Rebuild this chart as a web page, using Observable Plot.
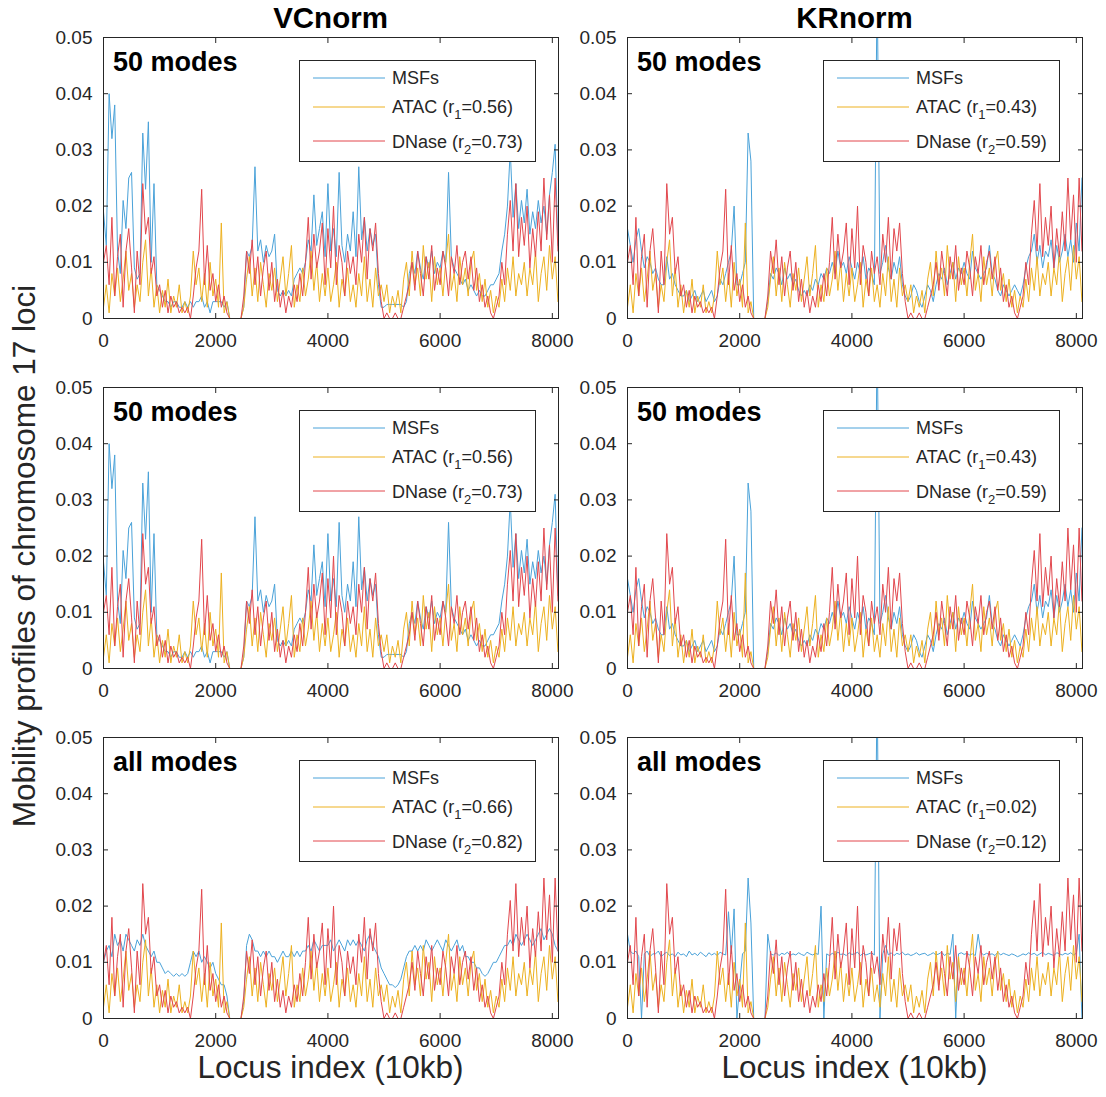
<!DOCTYPE html>
<html><head><meta charset="utf-8">
<script src="https://cdn.jsdelivr.net/npm/d3@7"></script>
<script src="https://cdn.jsdelivr.net/npm/@observablehq/plot@0.6"></script>
<style>
body{margin:0;background:#fff;}
#fig{position:relative;width:1106px;height:1097px;overflow:hidden;font-family:"Liberation Sans",Arial,Helvetica,sans-serif;}
</style></head><body><div id="fig"></div>
<script>
// ---- data (one sample every 50 loci) ----
const STEP = 50;
const xTicks = [0, 2000, 4000, 6000, 8000];
const yTicks = [0, 0.01, 0.02, 0.03, 0.04, 0.05];
const columnTitles = ["VCnorm", "KRnorm"];

const atac = [0.002,0.006,0.001,0.008,0.004,0.009,0.003,0.007,0.012,0.005,
 0.008,0.002,0.006,0.003,0.010,0.014,0.004,0.009,0.002,0.006,
 0.001,0.005,0.002,0.007,0.001,0.004,0.002,0.006,0.001,0.003,
 0.001,0.004,0.012,0.006,0.009,0.003,0.008,0.002,0.010,0.004,
 0.007,0.002,0.017,0.001,0.003,0,0,0,0,0,
 0.002,0.007,0.011,0.004,0.009,0.003,0.010,0.006,0.002,0.008,
 0.005,0.009,0.003,0.007,0.011,0.004,0.008,0.013,0.002,0.006,
 0.003,0.009,0.004,0.007,0.012,0.005,0.010,0.003,0.008,0.004,
 0.009,0.003,0.006,0.010,0.002,0.007,0.004,0.009,0.003,0.006,
 0.002,0.008,0.004,0.011,0.003,0.007,0.002,0.009,0.004,0.006,
 0.003,0.006,0.001,0.004,0.002,0.005,0.001,0.007,0.010,0.004,
 0.012,0.006,0.009,0.004,0.013,0.007,0.010,0.003,0.011,0.006,
 0.009,0.004,0.010,0.015,0.005,0.008,0.003,0.011,0.006,0.009,
 0.004,0.010,0.012,0.005,0.008,0.003,0.007,0.002,0.005,0.001,
 0.004,0.002,0.007,0.003,0.009,0.005,0.011,0.004,0.008,0.006,
 0.010,0.004,0.009,0.006,0.012,0.003,0.008,0.011,0.005,0.013,
 0.007,0.011,0.003];

const dnase = [0.010,0.013,0.006,0.018,0.004,0.011,0.015,0.002,0.012,0.016,
 0.009,0.001,0.012,0.006,0.024,0.015,0.018,0.008,0.011,0.004,
 0.006,0.002,0.005,0.001,0.004,0.002,0.003,0.001,0.002,0.001,
 0.002,0.000,0.004,0.009,0.012,0.023,0.006,0.013,0.005,0.008,
 0.003,0.006,0.002,0.004,0.001,0,0,0,0,0,
 0.004,0.012,0.008,0.014,0.006,0.011,0.004,0.009,0.012,0.005,
 0.010,0.003,0.007,0.002,0.005,0.001,0.004,0.002,0.006,0.003,
 0.008,0.004,0.010,0.018,0.007,0.015,0.009,0.012,0.017,0.006,
 0.016,0.009,0.020,0.006,0.013,0.010,0.004,0.012,0.008,0.011,
 0.006,0.015,0.010,0.018,0.007,0.016,0.012,0.017,0.008,0.003,
 0.000,0.001,0.000,0.000,0.001,0.000,0.000,0.002,0.004,0.006,
 0.010,0.005,0.012,0.008,0.004,0.011,0.007,0.013,0.005,0.009,
 0.006,0.012,0.009,0.004,0.011,0.008,0.013,0.006,0.010,0.012,
 0.007,0.011,0.005,0.009,0.003,0.006,0.002,0.004,0.001,0.000,
 0.002,0.004,0.010,0.006,0.015,0.021,0.012,0.024,0.011,0.018,
 0.013,0.020,0.009,0.016,0.011,0.019,0.012,0.025,0.014,0.022,
 0.010,0.025,0.012];

const msfVC50 = [0.019,0.013,0.040,0.032,0.038,0.012,0.008,0.021,0.016,0.025,
 0.026,0.009,0.007,0.008,0.033,0.023,0.035,0.010,0.024,0.006,
 0.005,0.004,0.003,0.003,0.002,0.003,0.003,0.002,0.002,0.003,
 0.002,0.003,0.002,0.003,0.003,0.004,0.002,0.003,0.001,0.003,
 0.003,0.003,0.003,0.002,0.003,0,0,0,0,0,
 0.002,0.012,0.011,0.013,0.027,0.012,0.014,0.010,0.013,0.011,
 0.012,0.015,0.005,0.004,0.005,0.004,0.005,0.004,0.007,0.008,
 0.009,0.008,0.010,0.014,0.012,0.022,0.013,0.016,0.019,0.011,
 0.024,0.012,0.016,0.011,0.026,0.013,0.010,0.015,0.012,0.019,
 0.011,0.027,0.014,0.018,0.012,0.016,0.013,0.015,0.006,0.002,
 0.002,0.0025,0.0025,0.0025,0.0025,0.0025,0.0025,0.002,0.003,0.008,
 0.010,0.008,0.012,0.009,0.007,0.011,0.009,0.012,0.008,0.010,
 0.009,0.012,0.010,0.026,0.011,0.009,0.008,0.007,0.006,0.007,
 0.005,0.006,0.005,0.004,0.005,0.004,0.004,0.005,0.006,0.006,
 0.007,0.008,0.012,0.015,0.020,0.030,0.018,0.024,0.016,0.021,
 0.017,0.023,0.015,0.019,0.016,0.021,0.017,0.020,0.015,0.022,
 0.026,0.031,0.013];

const msfKR50 = [0.016,0.013,0.010,0.014,0.016,0.012,0.009,0.011,0.010,0.008,
 0.009,0.007,0.006,0.006,0.011,0.007,0.008,0.006,0.005,0.004,
 0.004,0.005,0.003,0.004,0.005,0.003,0.004,0.005,0.003,0.004,
 0.005,0.003,0.004,0.007,0.006,0.008,0.010,0.012,0.020,0.006,
 0.006,0.008,0.010,0.033,0.028,0,0,0,0,0,
 0.003,0.008,0.007,0.009,0.008,0.006,0.009,0.007,0.008,0.006,
 0.007,0.005,0.004,0.005,0.004,0.006,0.005,0.007,0.006,0.008,
 0.007,0.009,0.008,0.010,0.008,0.012,0.009,0.010,0.008,0.011,
 0.009,0.007,0.010,0.008,0.011,0.007,0.009,0.008,0.006,0.060,
 0.008,0.010,0.013,0.009,0.007,0.010,0.008,0.011,0.006,0.004,
 0.003,0.004,0.006,0.005,0.003,0.002,0.004,0.006,0.005,0.003,
 0.006,0.008,0.007,0.009,0.006,0.008,0.010,0.007,0.009,0.008,
 0.010,0.008,0.007,0.012,0.009,0.008,0.007,0.008,0.009,0.013,
 0.008,0.007,0.005,0.004,0.006,0.005,0.004,0.005,0.006,0.005,
 0.004,0.006,0.009,0.011,0.012,0.015,0.010,0.013,0.009,0.012,
 0.011,0.014,0.009,0.013,0.010,0.012,0.015,0.011,0.014,0.010,
 0.017,0.012,0.025];

const msfVCall = [0.010,0.012,0.013,0.011,0.015,0.013,0.014,0.012,0.015,0.014,
 0.013,0.012,0.014,0.013,0.015,0.013,0.012,0.011,0.012,0.010,
 0.010,0.009,0.008,0.0085,0.008,0.0075,0.008,0.0075,0.008,0.0075,
 0.008,0.010,0.012,0.011,0.012,0.010,0.011,0.010,0.009,0.010,
 0.008,0.007,0.006,0.006,0.004,0,0,0,0,0,
 0.003,0.013,0.015,0.014,0.012,0.012,0.011,0.012,0.011,0.012,
 0.011,0.011,0.010,0.011,0.012,0.011,0.011,0.012,0.011,0.012,
 0.011,0.012,0.012,0.013,0.012,0.014,0.013,0.012,0.013,0.013,
 0.013,0.014,0.012,0.013,0.014,0.013,0.012,0.014,0.013,0.014,
 0.013,0.014,0.013,0.012,0.014,0.015,0.013,0.012,0.011,0.009,
 0.008,0.007,0.006,0.006,0.0055,0.006,0.007,0.009,0.011,0.012,
 0.012,0.013,0.012,0.013,0.012,0.014,0.013,0.012,0.013,0.014,
 0.013,0.012,0.014,0.013,0.012,0.013,0.014,0.012,0.013,0.011,
 0.011,0.010,0.010,0.009,0.009,0.008,0.0075,0.008,0.009,0.010,
 0.010,0.011,0.012,0.013,0.013,0.014,0.013,0.015,0.014,0.013,
 0.014,0.015,0.014,0.013,0.014,0.015,0.016,0.014,0.015,0.016,
 0.015,0.013,0.012];

const msfKRall = [0.015,0.012,0.0115,0.012,0.011,0.000,0.0115,0.012,0.011,0.0115,
 0.0115,0.012,0.011,0.0115,0.0118,0.0112,0.0115,0.011,0.0118,0.0113,
 0.0115,0.011,0.012,0.0113,0.0116,0.0112,0.0118,0.0114,0.011,0.0117,
 0.0113,0.0116,0.0112,0.0118,0.0115,0.0113,0.019,0.0115,0.0195,0.000,
 0.006,0.0115,0.012,0.025,0.017,0,0,0,0,0,
 0.015,0.0115,0.0113,0.0117,0.0112,0.0116,0.0114,0.0118,0.0112,0.0115,
 0.0113,0.0117,0.0114,0.0112,0.0118,0.0115,0.0113,0.0116,0.0114,0.020,
 0.000,0.0115,0.0112,0.0116,0.0113,0.0118,0.0114,0.0115,0.0112,0.0117,
 0.0114,0.0115,0.0118,0.0112,0.0116,0.0113,0.0115,0.0117,0.0113,0.060,
 0.000,0.0115,0.013,0.0113,0.0117,0.0112,0.0116,0.0114,0.0118,0.0113,
 0.0115,0.0112,0.0114,0.0117,0.0113,0.0115,0.0116,0.0112,0.0114,0.0117,
 0.0113,0.0115,0.0118,0.0112,0.0116,0.0114,0.015,0.000,0.0115,0.0117,
 0.0114,0.0116,0.0113,0.0115,0.0112,0.015,0.0117,0.0113,0.0116,0.0114,
 0.0115,0.0112,0.0118,0.0113,0.0116,0.0114,0.0112,0.0115,0.0113,0.0110,
 0.0112,0.0115,0.0113,0.0117,0.0114,0.0116,0.0112,0.0115,0.0118,0.0113,
 0.0116,0.0114,0.0112,0.0117,0.0115,0.0113,0.0116,0.0114,0.0117,0.0113,
 0.0116,0.015,0.000];

const panels = [
  {row: 0, col: 0, msf: msfVC50,  label: "50 modes",  r1: "0.56", r2: "0.73"},
  {row: 0, col: 1, msf: msfKR50,  label: "50 modes",  r1: "0.43", r2: "0.59"},
  {row: 1, col: 0, msf: msfVC50,  label: "50 modes",  r1: "0.56", r2: "0.73"},
  {row: 1, col: 1, msf: msfKR50,  label: "50 modes",  r1: "0.43", r2: "0.59"},
  {row: 2, col: 0, msf: msfVCall, label: "all modes", r1: "0.66", r2: "0.82"},
  {row: 2, col: 1, msf: msfKRall, label: "all modes", r1: "0.02", r2: "0.12"}
];

// ---- styling / layout ----
const FONT = '"Liberation Sans", Arial, Helvetica, sans-serif';
const AX = "#262626";
const C_MSF = "#4aa2d9", C_ATAC = "#edb120", C_DNASE = "#e2474d";
const frameLeft = [103, 627], frameTop = [37, 387, 737];
const PW = 455, PH = 281;
const mL = 60, mR = 20, mT = 15, mB = 40;
const fig = document.getElementById("fig");
const rowsOf = arr => arr.map((v, i) => ({locus: i * STEP, v}));
const yFmt = d => d === 0 ? "0" : d.toFixed(2);

for (const p of panels) {
  const svg = Plot.plot({
    width: PW + mL + mR, height: PH + mT + mB,
    marginLeft: mL, marginRight: mR, marginTop: mT, marginBottom: mB,
    x: {domain: [0, 8110]},
    y: {domain: [0, 0.05]},
    style: {background: "transparent", fontFamily: FONT, fontSize: "19px", color: AX, overflow: "visible"},
    marks: [
      Plot.line(rowsOf(p.msf), {x: "locus", y: "v", stroke: C_MSF, strokeWidth: 1, clip: true}),
      Plot.line(rowsOf(atac), {x: "locus", y: "v", stroke: C_ATAC, strokeWidth: 1, clip: true}),
      Plot.line(rowsOf(dnase), {x: "locus", y: "v", stroke: C_DNASE, strokeWidth: 1, clip: true}),
      Plot.frame({stroke: AX, strokeWidth: 1}),
      Plot.axisX(xTicks, {anchor: "bottom", tickSize: -5, tickPadding: 20, tickFormat: "d", fontSize: 19, fill: AX, label: null}),
      Plot.axisX(xTicks, {anchor: "top", tickSize: -5, tickFormat: () => "", label: null}),
      Plot.axisY(yTicks, {anchor: "left", tickSize: -5, tickPadding: 16, tickFormat: yFmt, fontSize: 19, fill: AX, label: null}),
      Plot.axisY(yTicks, {anchor: "right", tickSize: -5, tickFormat: () => "", label: null})
    ]
  });
  svg.style.position = "absolute";
  svg.style.left = (frameLeft[p.col] - mL) + "px";
  svg.style.top = (frameTop[p.row] - mT) + "px";
  fig.appendChild(svg);
}

// ---- overlay: titles, axis titles, panel labels, legends ----
const ov = d3.select(fig).append("svg")
  .attr("width", 1106).attr("height", 1097)
  .style("position", "absolute").style("left", 0).style("top", 0)
  .style("font-family", FONT);

columnTitles.forEach((t, c) => {
  ov.append("text").attr("x", frameLeft[c] + PW / 2).attr("y", 27.5)
    .attr("text-anchor", "middle").attr("font-size", 29.5).attr("font-weight", "bold")
    .attr("fill", "#000").text(t);
  ov.append("text").attr("x", frameLeft[c] + PW / 2).attr("y", 1078)
    .attr("text-anchor", "middle").attr("font-size", 31.5).attr("fill", AX)
    .text("Locus index (10kb)");
});
ov.append("text").attr("transform", "translate(35,556) rotate(-90)")
  .attr("text-anchor", "middle").attr("font-size", 31.5).attr("fill", AX)
  .text("Mobility profiles of chromosome 17 loci");

for (const p of panels) {
  const fx = frameLeft[p.col], fy = frameTop[p.row];
  ov.append("text").attr("x", fx + 10).attr("y", fy + 34)
    .attr("font-size", 27).attr("font-weight", "bold").attr("fill", "#000").text(p.label);
  const g = ov.append("g").attr("transform", `translate(${fx},${fy})`);
  g.append("rect").attr("x", 196.5).attr("y", 23.5).attr("width", 236).attr("height", 101)
    .attr("fill", "#fff").attr("stroke", AX).attr("stroke-width", 1);
  const entries = [
    {c: C_MSF, ly: 41, ty: 47, parts: ["MSFs"]},
    {c: C_ATAC, ly: 70, ty: 76, parts: ["ATAC (r", "1", "=" + p.r1 + ")"]},
    {c: C_DNASE, ly: 104, ty: 111, parts: ["DNase (r", "2", "=" + p.r2 + ")"]}
  ];
  for (const e of entries) {
    g.append("line").attr("x1", 210).attr("x2", 282).attr("y1", e.ly).attr("y2", e.ly)
      .attr("stroke", e.c).attr("stroke-width", 1);
    const t = g.append("text").attr("x", 289).attr("y", e.ty).attr("font-size", 18).attr("fill", AX);
    t.append("tspan").text(e.parts[0]);
    if (e.parts.length > 1) {
      t.append("tspan").attr("dy", 6).attr("font-size", 13).text(e.parts[1]);
      t.append("tspan").attr("dy", -6).text(e.parts[2]);
    }
  }
}
</script>
</body></html>
